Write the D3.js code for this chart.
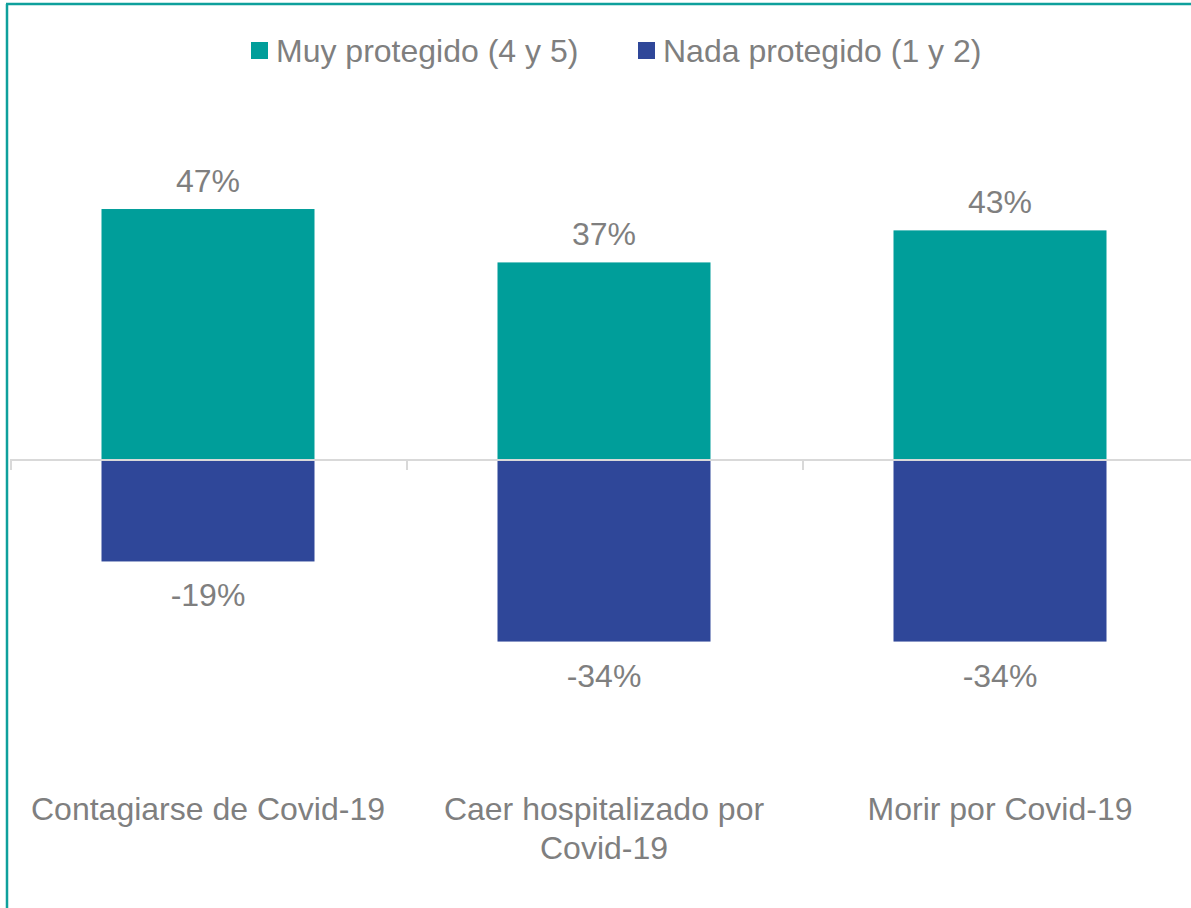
<!DOCTYPE html>
<html>
<head>
<meta charset="utf-8">
<script src="https://cdn.jsdelivr.net/npm/d3@7"></script>
<style>
  body { margin: 0; background: #fff; }
  text { font-family: "Liberation Sans", Arial, sans-serif; fill: #7f7f7f; }
</style>
</head>
<body>
<div id="chart"></div>
<script>
var categories = [["Contagiarse de Covid-19"], ["Caer hospitalizado por", "Covid-19"], ["Morir por Covid-19"]];
var seriesNames = ["Muy protegido (4 y 5)", "Nada protegido (1 y 2)"];
var muy = [47, 37, 43];
var nada = [-19, -34, -34];

var colors = ["#009E9A", "#2F4799"];
var width = 1191, height = 908;
var fs = "32px";

var svg = d3.select("#chart").append("svg")
    .attr("width", width)
    .attr("height", height);

// frame (teal, top + left visible)
svg.append("line").attr("x1", 6).attr("x2", width).attr("y1", 4).attr("y2", 4)
    .attr("stroke", "#0FA09C").attr("stroke-width", 2.5);
svg.append("line").attr("x1", 7).attr("x2", 7).attr("y1", 4).attr("y2", height)
    .attr("stroke", "#0FA09C").attr("stroke-width", 2.5);

var x = d3.scaleBand()
    .domain(d3.range(categories.length))
    .range([10, 1198])
    .paddingInner(0).paddingOuter(0);

var y = d3.scaleLinear()
    .domain([-34, 47])
    .range([460 + 34 * 5.34, 460 - 47 * 5.34]);

var barW = 213;

// bars
var g = svg.append("g");
g.selectAll(".muy").data(muy).enter().append("rect")
    .attr("x", function(d, i) { return x(i) + x.bandwidth() / 2 - barW / 2; })
    .attr("y", function(d) { return y(d); })
    .attr("width", barW)
    .attr("height", function(d) { return y(0) - y(d); })
    .attr("fill", colors[0]);

g.selectAll(".nada").data(nada).enter().append("rect")
    .attr("x", function(d, i) { return x(i) + x.bandwidth() / 2 - barW / 2; })
    .attr("y", y(0))
    .attr("width", barW)
    .attr("height", function(d) { return y(d) - y(0); })
    .attr("fill", colors[1]);

// axis line with ticks
var ax = svg.append("g");
ax.append("line").attr("x1", 10).attr("x2", width).attr("y1", y(0)).attr("y2", y(0))
    .attr("stroke", "#D9D9D9").attr("stroke-width", 2);
ax.selectAll(".tick").data(d3.range(categories.length + 1)).enter().append("line")
    .attr("x1", function(d) { return 11 + d * x.step(); })
    .attr("x2", function(d) { return 11 + d * x.step(); })
    .attr("y1", y(0)).attr("y2", y(0) + 10)
    .attr("stroke", "#D9D9D9").attr("stroke-width", 2);

// value labels
svg.selectAll(".lp").data(muy).enter().append("text")
    .attr("x", function(d, i) { return x(i) + x.bandwidth() / 2; })
    .attr("y", function(d) { return y(d) - 17; })
    .attr("text-anchor", "middle")
    .style("font-size", fs)
    .text(function(d) { return d + "%"; });

svg.selectAll(".ln").data(nada).enter().append("text")
    .attr("x", function(d, i) { return x(i) + x.bandwidth() / 2; })
    .attr("y", function(d) { return y(d) + 45; })
    .attr("text-anchor", "middle")
    .style("font-size", fs)
    .text(function(d) { return d + "%"; });

// category labels
var cl = svg.selectAll(".cat").data(categories).enter().append("text")
    .attr("text-anchor", "middle")
    .style("font-size", fs)
    .attr("x", function(d, i) { return x(i) + x.bandwidth() / 2; })
    .attr("y", 820);
cl.selectAll("tspan").data(function(d) { return d; }).enter().append("tspan")
    .attr("x", function() { return d3.select(this.parentNode).attr("x"); })
    .attr("dy", function(d, i) { return i ? 39 : 0; })
    .text(function(d) { return d; });

// legend
var legX = [251, 638];
var leg = svg.selectAll(".leg").data(seriesNames).enter().append("g")
    .attr("transform", function(d, i) { return "translate(" + legX[i] + ",42)"; });
leg.append("rect").attr("width", 17).attr("height", 17)
    .attr("fill", function(d, i) { return colors[i]; });
leg.append("text").attr("x", 25).attr("y", 20)
    .style("font-size", fs)
    .text(function(d) { return d; });
</script>
</body>
</html>
